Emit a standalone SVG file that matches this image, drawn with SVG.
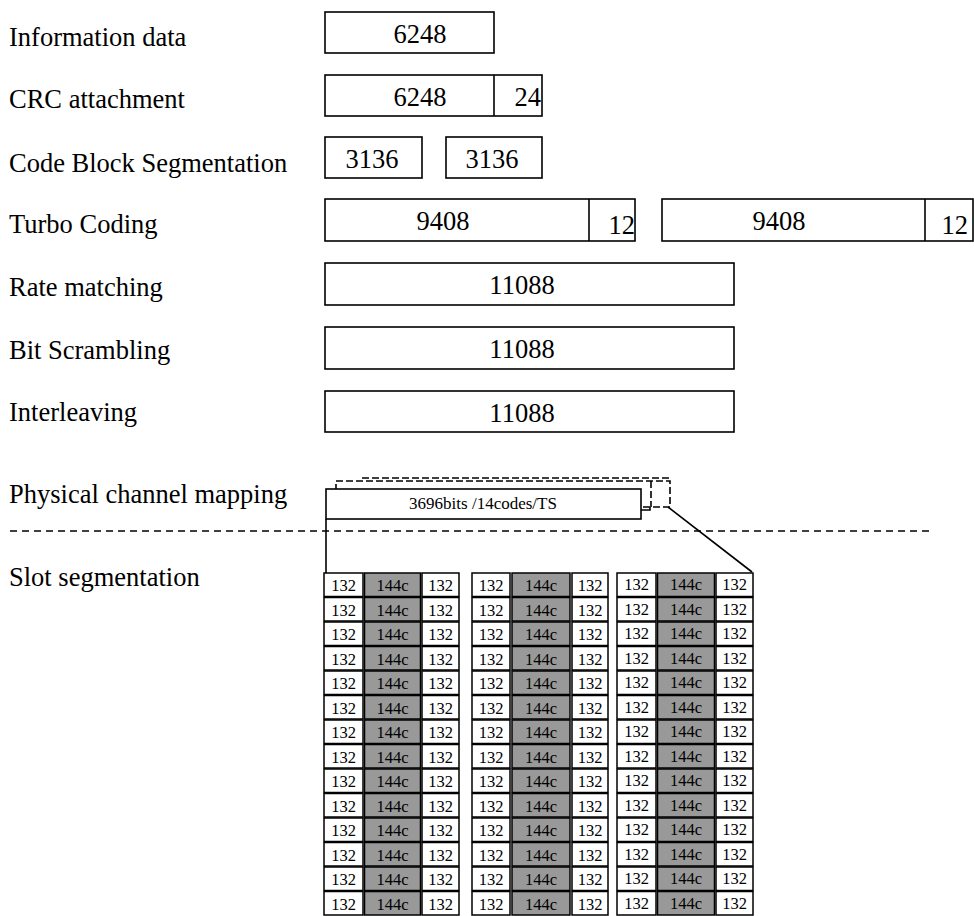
<svg xmlns="http://www.w3.org/2000/svg" width="974" height="916" viewBox="0 0 974 916">
<style>
text{font-family:"Liberation Serif","Times New Roman",serif;fill:#000}
.lbl{font-size:26.5px}
.bt{font-size:26.5px;text-anchor:middle}
.be{font-size:26.5px;text-anchor:end}
.sm{font-size:17px;text-anchor:middle}
.c{font-size:16.5px;text-anchor:middle}
.box{fill:#fff;stroke:#000;stroke-width:1.6}
.w{fill:#fff;stroke:#000;stroke-width:1.5}
.g{fill:#999;stroke:#000;stroke-width:1.5}
.dash{fill:none;stroke:#000;stroke-width:1.6;stroke-dasharray:7 3}
.ln{fill:none;stroke:#000;stroke-width:1.6}
</style>
<rect width="974" height="916" fill="#fff"/>
<g id="labels">
<text class="lbl" x="9" y="46">Information data</text>
<text class="lbl" x="9" y="108">CRC attachment</text>
<text class="lbl" x="9" y="172">Code Block Segmentation</text>
<text class="lbl" x="9" y="233">Turbo Coding</text>
<text class="lbl" x="9" y="296">Rate matching</text>
<text class="lbl" x="9" y="359">Bit Scrambling</text>
<text class="lbl" x="9" y="421">Interleaving</text>
<text class="lbl" x="9" y="503">Physical channel mapping</text>
<text class="lbl" x="9" y="586">Slot segmentation</text>
</g>
<g id="info">
<rect class="box" x="325" y="12" width="169" height="41"/>
<text class="bt" x="420" y="43">6248</text>
</g>
<g id="crc">
<rect class="box" x="325" y="75" width="217" height="41"/>
<line class="ln" x1="494" y1="75" x2="494" y2="116"/>
<text class="bt" x="420" y="106">6248</text>
<text class="be" x="541" y="106">24</text>
</g>
<g id="cbs1">
<rect class="box" x="325" y="137" width="97" height="41"/>
<text class="bt" x="372" y="168">3136</text>
</g>
<g id="cbs2">
<rect class="box" x="446" y="137" width="96" height="41"/>
<text class="bt" x="492" y="168">3136</text>
</g>
<g id="turbo1">
<rect class="box" x="325" y="199" width="310" height="42"/>
<line class="ln" x1="589" y1="199" x2="589" y2="241"/>
<text class="bt" x="443" y="230">9408</text>
<text class="be" x="635" y="234">12</text>
</g>
<g id="turbo2">
<rect class="box" x="662" y="199" width="311" height="42"/>
<line class="ln" x1="925" y1="199" x2="925" y2="241"/>
<text class="bt" x="779" y="230">9408</text>
<text class="be" x="968" y="234">12</text>
</g>
<g id="ratematch">
<rect class="box" x="325" y="263" width="409" height="42"/>
<text class="bt" x="522" y="294">11088</text>
</g>
<g id="scramble">
<rect class="box" x="325" y="327" width="409" height="42"/>
<text class="bt" x="522" y="358">11088</text>
</g>
<g id="interleave">
<rect class="box" x="325" y="391" width="409" height="41"/>
<text class="bt" x="522" y="422">11088</text>
</g>
<g id="connectors">
<rect class="dash" x="336" y="481" width="334" height="26"/>
<line class="dash" x1="362" y1="478" x2="670" y2="478"/>
<line class="dash" x1="651" y1="481" x2="651" y2="507"/>
<line class="ln" x1="326" y1="519" x2="326" y2="573"/>
<line class="ln" x1="668" y1="507" x2="752" y2="572"/>
<path class="ln" d="M641,510 H650 V507"/>
<line x1="10" y1="531" x2="930" y2="531" stroke="#000" stroke-width="1.4" stroke-dasharray="7 5"/>
</g>
<g id="physmap">
<rect class="box" x="326" y="489" width="315" height="30"/>
<text class="sm" x="483" y="509">3696bits /14codes/TS</text>
</g>
<g id="slots1">
<g transform="translate(0,572.5)"><rect class="w" x="324" y="0.5" width="39" height="23.5"/><rect class="g" x="364.5" y="0.5" width="56" height="23.5"/><rect class="w" x="422" y="0.5" width="37" height="23.5"/><text class="c" x="343.5" y="18.5">132</text><text class="c" x="392.5" y="18.5">144c</text><text class="c" x="440.5" y="18.5">132</text></g>
<g transform="translate(0,597)"><rect class="w" x="324" y="0.5" width="39" height="23.5"/><rect class="g" x="364.5" y="0.5" width="56" height="23.5"/><rect class="w" x="422" y="0.5" width="37" height="23.5"/><text class="c" x="343.5" y="18.5">132</text><text class="c" x="392.5" y="18.5">144c</text><text class="c" x="440.5" y="18.5">132</text></g>
<g transform="translate(0,621.5)"><rect class="w" x="324" y="0.5" width="39" height="23.5"/><rect class="g" x="364.5" y="0.5" width="56" height="23.5"/><rect class="w" x="422" y="0.5" width="37" height="23.5"/><text class="c" x="343.5" y="18.5">132</text><text class="c" x="392.5" y="18.5">144c</text><text class="c" x="440.5" y="18.5">132</text></g>
<g transform="translate(0,646)"><rect class="w" x="324" y="0.5" width="39" height="23.5"/><rect class="g" x="364.5" y="0.5" width="56" height="23.5"/><rect class="w" x="422" y="0.5" width="37" height="23.5"/><text class="c" x="343.5" y="18.5">132</text><text class="c" x="392.5" y="18.5">144c</text><text class="c" x="440.5" y="18.5">132</text></g>
<g transform="translate(0,670.5)"><rect class="w" x="324" y="0.5" width="39" height="23.5"/><rect class="g" x="364.5" y="0.5" width="56" height="23.5"/><rect class="w" x="422" y="0.5" width="37" height="23.5"/><text class="c" x="343.5" y="18.5">132</text><text class="c" x="392.5" y="18.5">144c</text><text class="c" x="440.5" y="18.5">132</text></g>
<g transform="translate(0,695)"><rect class="w" x="324" y="0.5" width="39" height="23.5"/><rect class="g" x="364.5" y="0.5" width="56" height="23.5"/><rect class="w" x="422" y="0.5" width="37" height="23.5"/><text class="c" x="343.5" y="18.5">132</text><text class="c" x="392.5" y="18.5">144c</text><text class="c" x="440.5" y="18.5">132</text></g>
<g transform="translate(0,719.5)"><rect class="w" x="324" y="0.5" width="39" height="23.5"/><rect class="g" x="364.5" y="0.5" width="56" height="23.5"/><rect class="w" x="422" y="0.5" width="37" height="23.5"/><text class="c" x="343.5" y="18.5">132</text><text class="c" x="392.5" y="18.5">144c</text><text class="c" x="440.5" y="18.5">132</text></g>
<g transform="translate(0,744)"><rect class="w" x="324" y="0.5" width="39" height="23.5"/><rect class="g" x="364.5" y="0.5" width="56" height="23.5"/><rect class="w" x="422" y="0.5" width="37" height="23.5"/><text class="c" x="343.5" y="18.5">132</text><text class="c" x="392.5" y="18.5">144c</text><text class="c" x="440.5" y="18.5">132</text></g>
<g transform="translate(0,768.5)"><rect class="w" x="324" y="0.5" width="39" height="23.5"/><rect class="g" x="364.5" y="0.5" width="56" height="23.5"/><rect class="w" x="422" y="0.5" width="37" height="23.5"/><text class="c" x="343.5" y="18.5">132</text><text class="c" x="392.5" y="18.5">144c</text><text class="c" x="440.5" y="18.5">132</text></g>
<g transform="translate(0,793)"><rect class="w" x="324" y="0.5" width="39" height="23.5"/><rect class="g" x="364.5" y="0.5" width="56" height="23.5"/><rect class="w" x="422" y="0.5" width="37" height="23.5"/><text class="c" x="343.5" y="18.5">132</text><text class="c" x="392.5" y="18.5">144c</text><text class="c" x="440.5" y="18.5">132</text></g>
<g transform="translate(0,817.5)"><rect class="w" x="324" y="0.5" width="39" height="23.5"/><rect class="g" x="364.5" y="0.5" width="56" height="23.5"/><rect class="w" x="422" y="0.5" width="37" height="23.5"/><text class="c" x="343.5" y="18.5">132</text><text class="c" x="392.5" y="18.5">144c</text><text class="c" x="440.5" y="18.5">132</text></g>
<g transform="translate(0,842)"><rect class="w" x="324" y="0.5" width="39" height="23.5"/><rect class="g" x="364.5" y="0.5" width="56" height="23.5"/><rect class="w" x="422" y="0.5" width="37" height="23.5"/><text class="c" x="343.5" y="18.5">132</text><text class="c" x="392.5" y="18.5">144c</text><text class="c" x="440.5" y="18.5">132</text></g>
<g transform="translate(0,866.5)"><rect class="w" x="324" y="0.5" width="39" height="23.5"/><rect class="g" x="364.5" y="0.5" width="56" height="23.5"/><rect class="w" x="422" y="0.5" width="37" height="23.5"/><text class="c" x="343.5" y="18.5">132</text><text class="c" x="392.5" y="18.5">144c</text><text class="c" x="440.5" y="18.5">132</text></g>
<g transform="translate(0,891)"><rect class="w" x="324" y="0.5" width="39" height="23.5"/><rect class="g" x="364.5" y="0.5" width="56" height="23.5"/><rect class="w" x="422" y="0.5" width="37" height="23.5"/><text class="c" x="343.5" y="18.5">132</text><text class="c" x="392.5" y="18.5">144c</text><text class="c" x="440.5" y="18.5">132</text></g>
</g>
<g id="slots2">
<g transform="translate(0,572.5)"><rect class="w" x="472" y="0.5" width="38" height="23.5"/><rect class="g" x="512" y="0.5" width="58" height="23.5"/><rect class="w" x="572" y="0.5" width="36" height="23.5"/><text class="c" x="491" y="18.5">132</text><text class="c" x="541" y="18.5">144c</text><text class="c" x="590" y="18.5">132</text></g>
<g transform="translate(0,597)"><rect class="w" x="472" y="0.5" width="38" height="23.5"/><rect class="g" x="512" y="0.5" width="58" height="23.5"/><rect class="w" x="572" y="0.5" width="36" height="23.5"/><text class="c" x="491" y="18.5">132</text><text class="c" x="541" y="18.5">144c</text><text class="c" x="590" y="18.5">132</text></g>
<g transform="translate(0,621.5)"><rect class="w" x="472" y="0.5" width="38" height="23.5"/><rect class="g" x="512" y="0.5" width="58" height="23.5"/><rect class="w" x="572" y="0.5" width="36" height="23.5"/><text class="c" x="491" y="18.5">132</text><text class="c" x="541" y="18.5">144c</text><text class="c" x="590" y="18.5">132</text></g>
<g transform="translate(0,646)"><rect class="w" x="472" y="0.5" width="38" height="23.5"/><rect class="g" x="512" y="0.5" width="58" height="23.5"/><rect class="w" x="572" y="0.5" width="36" height="23.5"/><text class="c" x="491" y="18.5">132</text><text class="c" x="541" y="18.5">144c</text><text class="c" x="590" y="18.5">132</text></g>
<g transform="translate(0,670.5)"><rect class="w" x="472" y="0.5" width="38" height="23.5"/><rect class="g" x="512" y="0.5" width="58" height="23.5"/><rect class="w" x="572" y="0.5" width="36" height="23.5"/><text class="c" x="491" y="18.5">132</text><text class="c" x="541" y="18.5">144c</text><text class="c" x="590" y="18.5">132</text></g>
<g transform="translate(0,695)"><rect class="w" x="472" y="0.5" width="38" height="23.5"/><rect class="g" x="512" y="0.5" width="58" height="23.5"/><rect class="w" x="572" y="0.5" width="36" height="23.5"/><text class="c" x="491" y="18.5">132</text><text class="c" x="541" y="18.5">144c</text><text class="c" x="590" y="18.5">132</text></g>
<g transform="translate(0,719.5)"><rect class="w" x="472" y="0.5" width="38" height="23.5"/><rect class="g" x="512" y="0.5" width="58" height="23.5"/><rect class="w" x="572" y="0.5" width="36" height="23.5"/><text class="c" x="491" y="18.5">132</text><text class="c" x="541" y="18.5">144c</text><text class="c" x="590" y="18.5">132</text></g>
<g transform="translate(0,744)"><rect class="w" x="472" y="0.5" width="38" height="23.5"/><rect class="g" x="512" y="0.5" width="58" height="23.5"/><rect class="w" x="572" y="0.5" width="36" height="23.5"/><text class="c" x="491" y="18.5">132</text><text class="c" x="541" y="18.5">144c</text><text class="c" x="590" y="18.5">132</text></g>
<g transform="translate(0,768.5)"><rect class="w" x="472" y="0.5" width="38" height="23.5"/><rect class="g" x="512" y="0.5" width="58" height="23.5"/><rect class="w" x="572" y="0.5" width="36" height="23.5"/><text class="c" x="491" y="18.5">132</text><text class="c" x="541" y="18.5">144c</text><text class="c" x="590" y="18.5">132</text></g>
<g transform="translate(0,793)"><rect class="w" x="472" y="0.5" width="38" height="23.5"/><rect class="g" x="512" y="0.5" width="58" height="23.5"/><rect class="w" x="572" y="0.5" width="36" height="23.5"/><text class="c" x="491" y="18.5">132</text><text class="c" x="541" y="18.5">144c</text><text class="c" x="590" y="18.5">132</text></g>
<g transform="translate(0,817.5)"><rect class="w" x="472" y="0.5" width="38" height="23.5"/><rect class="g" x="512" y="0.5" width="58" height="23.5"/><rect class="w" x="572" y="0.5" width="36" height="23.5"/><text class="c" x="491" y="18.5">132</text><text class="c" x="541" y="18.5">144c</text><text class="c" x="590" y="18.5">132</text></g>
<g transform="translate(0,842)"><rect class="w" x="472" y="0.5" width="38" height="23.5"/><rect class="g" x="512" y="0.5" width="58" height="23.5"/><rect class="w" x="572" y="0.5" width="36" height="23.5"/><text class="c" x="491" y="18.5">132</text><text class="c" x="541" y="18.5">144c</text><text class="c" x="590" y="18.5">132</text></g>
<g transform="translate(0,866.5)"><rect class="w" x="472" y="0.5" width="38" height="23.5"/><rect class="g" x="512" y="0.5" width="58" height="23.5"/><rect class="w" x="572" y="0.5" width="36" height="23.5"/><text class="c" x="491" y="18.5">132</text><text class="c" x="541" y="18.5">144c</text><text class="c" x="590" y="18.5">132</text></g>
<g transform="translate(0,891)"><rect class="w" x="472" y="0.5" width="38" height="23.5"/><rect class="g" x="512" y="0.5" width="58" height="23.5"/><rect class="w" x="572" y="0.5" width="36" height="23.5"/><text class="c" x="491" y="18.5">132</text><text class="c" x="541" y="18.5">144c</text><text class="c" x="590" y="18.5">132</text></g>
</g>
<g id="slots3">
<g transform="translate(0,572.5)"><rect class="w" x="617" y="0.5" width="39" height="23.5"/><rect class="g" x="657.5" y="0.5" width="57" height="23.5"/><rect class="w" x="716" y="0.5" width="37" height="23.5"/><text class="c" x="636.5" y="17.5">132</text><text class="c" x="686" y="17.5">144c</text><text class="c" x="734.5" y="17.5">132</text></g>
<g transform="translate(0,597)"><rect class="w" x="617" y="0.5" width="39" height="23.5"/><rect class="g" x="657.5" y="0.5" width="57" height="23.5"/><rect class="w" x="716" y="0.5" width="37" height="23.5"/><text class="c" x="636.5" y="17.5">132</text><text class="c" x="686" y="17.5">144c</text><text class="c" x="734.5" y="17.5">132</text></g>
<g transform="translate(0,621.5)"><rect class="w" x="617" y="0.5" width="39" height="23.5"/><rect class="g" x="657.5" y="0.5" width="57" height="23.5"/><rect class="w" x="716" y="0.5" width="37" height="23.5"/><text class="c" x="636.5" y="17.5">132</text><text class="c" x="686" y="17.5">144c</text><text class="c" x="734.5" y="17.5">132</text></g>
<g transform="translate(0,646)"><rect class="w" x="617" y="0.5" width="39" height="23.5"/><rect class="g" x="657.5" y="0.5" width="57" height="23.5"/><rect class="w" x="716" y="0.5" width="37" height="23.5"/><text class="c" x="636.5" y="17.5">132</text><text class="c" x="686" y="17.5">144c</text><text class="c" x="734.5" y="17.5">132</text></g>
<g transform="translate(0,670.5)"><rect class="w" x="617" y="0.5" width="39" height="23.5"/><rect class="g" x="657.5" y="0.5" width="57" height="23.5"/><rect class="w" x="716" y="0.5" width="37" height="23.5"/><text class="c" x="636.5" y="17.5">132</text><text class="c" x="686" y="17.5">144c</text><text class="c" x="734.5" y="17.5">132</text></g>
<g transform="translate(0,695)"><rect class="w" x="617" y="0.5" width="39" height="23.5"/><rect class="g" x="657.5" y="0.5" width="57" height="23.5"/><rect class="w" x="716" y="0.5" width="37" height="23.5"/><text class="c" x="636.5" y="17.5">132</text><text class="c" x="686" y="17.5">144c</text><text class="c" x="734.5" y="17.5">132</text></g>
<g transform="translate(0,719.5)"><rect class="w" x="617" y="0.5" width="39" height="23.5"/><rect class="g" x="657.5" y="0.5" width="57" height="23.5"/><rect class="w" x="716" y="0.5" width="37" height="23.5"/><text class="c" x="636.5" y="17.5">132</text><text class="c" x="686" y="17.5">144c</text><text class="c" x="734.5" y="17.5">132</text></g>
<g transform="translate(0,744)"><rect class="w" x="617" y="0.5" width="39" height="23.5"/><rect class="g" x="657.5" y="0.5" width="57" height="23.5"/><rect class="w" x="716" y="0.5" width="37" height="23.5"/><text class="c" x="636.5" y="17.5">132</text><text class="c" x="686" y="17.5">144c</text><text class="c" x="734.5" y="17.5">132</text></g>
<g transform="translate(0,768.5)"><rect class="w" x="617" y="0.5" width="39" height="23.5"/><rect class="g" x="657.5" y="0.5" width="57" height="23.5"/><rect class="w" x="716" y="0.5" width="37" height="23.5"/><text class="c" x="636.5" y="17.5">132</text><text class="c" x="686" y="17.5">144c</text><text class="c" x="734.5" y="17.5">132</text></g>
<g transform="translate(0,793)"><rect class="w" x="617" y="0.5" width="39" height="23.5"/><rect class="g" x="657.5" y="0.5" width="57" height="23.5"/><rect class="w" x="716" y="0.5" width="37" height="23.5"/><text class="c" x="636.5" y="17.5">132</text><text class="c" x="686" y="17.5">144c</text><text class="c" x="734.5" y="17.5">132</text></g>
<g transform="translate(0,817.5)"><rect class="w" x="617" y="0.5" width="39" height="23.5"/><rect class="g" x="657.5" y="0.5" width="57" height="23.5"/><rect class="w" x="716" y="0.5" width="37" height="23.5"/><text class="c" x="636.5" y="17.5">132</text><text class="c" x="686" y="17.5">144c</text><text class="c" x="734.5" y="17.5">132</text></g>
<g transform="translate(0,842)"><rect class="w" x="617" y="0.5" width="39" height="23.5"/><rect class="g" x="657.5" y="0.5" width="57" height="23.5"/><rect class="w" x="716" y="0.5" width="37" height="23.5"/><text class="c" x="636.5" y="17.5">132</text><text class="c" x="686" y="17.5">144c</text><text class="c" x="734.5" y="17.5">132</text></g>
<g transform="translate(0,866.5)"><rect class="w" x="617" y="0.5" width="39" height="23.5"/><rect class="g" x="657.5" y="0.5" width="57" height="23.5"/><rect class="w" x="716" y="0.5" width="37" height="23.5"/><text class="c" x="636.5" y="17.5">132</text><text class="c" x="686" y="17.5">144c</text><text class="c" x="734.5" y="17.5">132</text></g>
<g transform="translate(0,891)"><rect class="w" x="617" y="0.5" width="39" height="23.5"/><rect class="g" x="657.5" y="0.5" width="57" height="23.5"/><rect class="w" x="716" y="0.5" width="37" height="23.5"/><text class="c" x="636.5" y="17.5">132</text><text class="c" x="686" y="17.5">144c</text><text class="c" x="734.5" y="17.5">132</text></g>
</g>
</svg>
